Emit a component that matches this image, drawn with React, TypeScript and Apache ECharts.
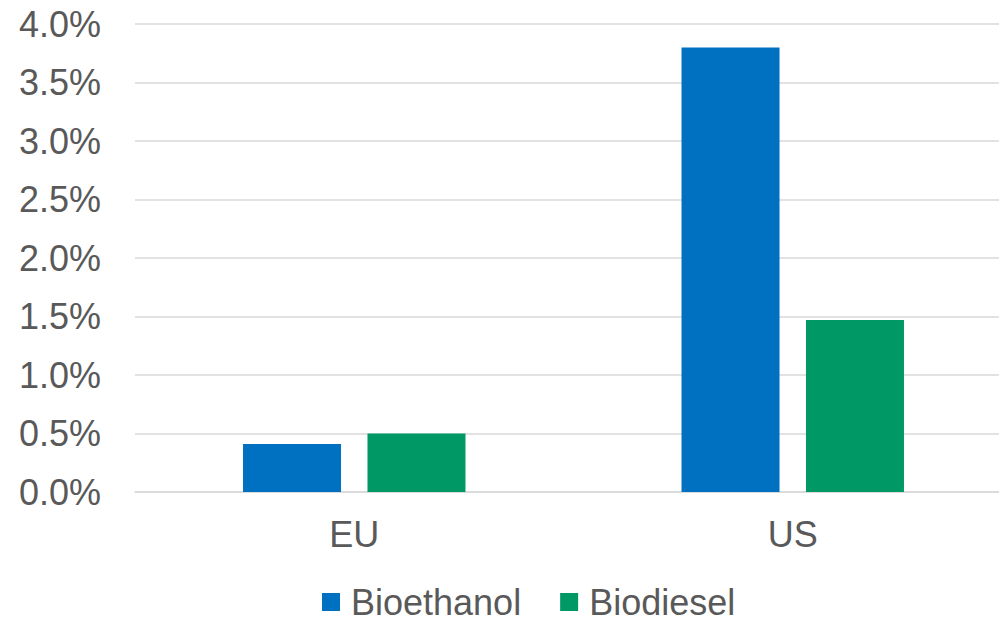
import React, { useEffect, useRef } from "react";
import * as echarts from "echarts";

const categories = ["EU", "US"];
const bioethanol = [0.41, 3.8];
const biodiesel = [0.5, 1.47];
const seriesNames = ["Bioethanol", "Biodiesel"];
const yMin = 0;
const yMax = 4;
const yInterval = 0.5;

export default function App() {
  const ref = useRef<HTMLDivElement>(null);
  useEffect(() => {
    if (!ref.current) return;
    const chart = echarts.init(ref.current, null, { renderer: "svg" });
    const font = "'Liberation Sans', Arial, sans-serif";
    chart.setOption({
      animation: false,
      textStyle: { fontFamily: font },
      grid: { left: 135, right: 0, top: 24, bottom: 125, containLabel: false },
      legend: {
        left: 317,
        top: 579,
        itemWidth: 18,
        itemHeight: 18,
        itemGap: 39,
        icon: "rect",
        data: seriesNames,
        textStyle: {
          fontSize: 36,
          lineHeight: 34,
          color: "#595959",
          fontFamily: font,
          padding: [0, 0, 0, 6],
        },
      },
      xAxis: {
        type: "category",
        data: categories,
        axisTick: { show: false },
        axisLine: { lineStyle: { color: "#d9d9d9", width: 1.5 } },
        axisLabel: { fontSize: 36, color: "#595959", margin: 24, fontFamily: font },
      },
      yAxis: {
        type: "value",
        min: yMin,
        max: yMax,
        interval: yInterval,
        axisLine: { show: false },
        axisTick: { show: false },
        splitLine: { lineStyle: { color: "#d9d9d9", width: 1.5 } },
        axisLabel: {
          fontSize: 36,
          color: "#595959",
          margin: 34,
          fontFamily: font,
          formatter: (v: number) => v.toFixed(1) + "%",
        },
      },
      series: [
        {
          name: seriesNames[0],
          type: "bar",
          data: bioethanol,
          barWidth: 98,
          barGap: "27%",
          itemStyle: { color: "#0070C0" },
        },
        {
          name: seriesNames[1],
          type: "bar",
          data: biodiesel,
          barWidth: 98,
          barGap: "27%",
          itemStyle: { color: "#009966" },
        },
      ],
    });
    return () => chart.dispose();
  }, []);
  return (
    <div
      style={{ position: "fixed", left: 0, top: 0, width: 999, height: 617, overflow: "hidden", background: "#fff" }}
    >
      <div ref={ref} style={{ width: 1012, height: 617 }} />
    </div>
  );
}
